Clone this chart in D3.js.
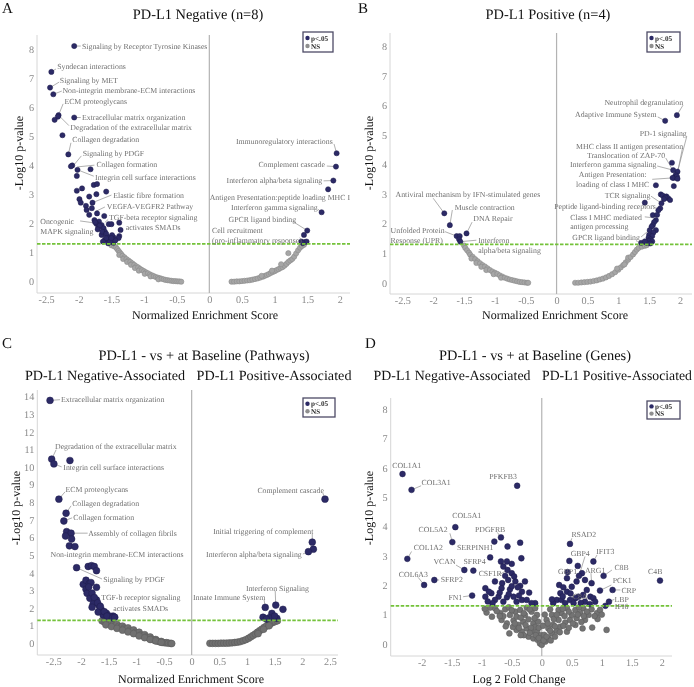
<!DOCTYPE html>
<html><head><meta charset="utf-8">
<script src="https://cdn.jsdelivr.net/npm/d3@7/dist/d3.min.js"></script>
<style>body{margin:0;background:#fff}svg{display:block;opacity:0.999;will-change:transform}svg text{text-rendering:geometricPrecision}</style>
</head><body>
<svg id="chart" width="694" height="687"></svg>
<script>
// ---------------- DATA ----------------
const sigThreshold = 1.3;
const nesTicksAB = [-2.5,-2,-1.5,-1,-0.5,0,0.5,1,1.5,2];
const nesTicksC = [-2.5,-2,-1.5,-1,-0.5,0,0.5,1,1.5,2,2.5];
const lfcTicks = [-2,-1.5,-1,-0.5,0,0.5,1,1.5,2];
const yTicks8 = [0,1,2,3,4,5,6,7,8];
const yTicks14 = [0,1,2,3,4,5,6,7,8,9,10,11,12,13,14];
const legendItems = ["p<.05","NS"];

// Panel A: PD-L1 Negative (n=8) — [NES, -log10 p]
const pdl1NegPoints = [
[-2.07,8.11],[-2.42,7.22],[-2.44,6.68],[-2.39,6.45],[-2.31,5.73],[-2.32,5.68],[-2.37,5.57],[-2.07,5.65],[-2.25,5.04],[-2.16,4.38],[-2.10,4.00],[-2.12,3.97],[-2.02,3.85],[-1.82,3.87],[-2.03,3.64],
[-2.03,3.13],[-1.95,3.21],[-1.77,3.33],[-1.72,3.36],[-1.58,3.10],[-1.84,2.93],[-1.73,3.01],[-1.99,2.84],[-1.97,2.72],[-1.89,2.61],[-1.79,2.72],[-1.80,2.53],[-1.88,2.47],[-1.84,2.30],[-1.72,2.35],[-1.61,2.26],[-1.76,2.12],[-1.69,2.07],[-1.73,1.99],[-1.65,1.95],[-1.70,1.87],[-1.62,1.84],[-1.54,1.98],[-1.50,1.98],[-1.38,2.03],[-1.36,1.78],[-1.38,1.57],[-1.39,1.50],[-1.60,1.72],[-1.65,1.61],[-1.56,1.55],[-1.60,1.44],[-1.53,1.44],[-1.47,1.53],[-1.55,1.32],[-1.47,1.34],[-1.49,1.60],
[-1.75,2.05],[-1.68,1.93],[-1.71,1.80],[-1.64,1.72],[-1.58,1.65],[-1.52,1.38],[-1.44,1.42],[-1.58,1.50],[-1.63,1.38],[-1.50,1.50],
[1.95,4.42],[1.94,3.96],[1.90,3.48],[1.82,3.18],[1.72,2.39],[1.50,1.76],[1.45,1.61],[1.41,1.38],[1.46,1.36],[1.49,1.38],[1.43,1.33],
[-1.50,1.25],[-1.46,1.22],[-1.43,1.18],[-1.41,1.12],[-1.39,1.06],[-1.37,1.00],[-1.35,0.95],[-1.38,0.92],[-1.33,0.89],[-1.30,0.84],[-1.32,0.78],[-1.27,0.78],[-1.24,0.73],[-1.26,0.68],[-1.21,0.68],[-1.18,0.63],[-1.20,0.58],[-1.15,0.58],[-1.12,0.53],[-1.14,0.47],[-1.09,0.49],[-1.06,0.44],[-1.08,0.38],[-1.03,0.40],[-1.00,0.36],[-0.97,0.32],[-0.99,0.27],[-0.94,0.29],[-0.91,0.25],[-0.88,0.22],[-0.90,0.18],[-0.85,0.19],[-0.82,0.16],[-0.79,0.14],[-0.76,0.12],[-0.78,0.08],[-0.73,0.10],[-0.70,0.08],[-0.67,0.06],[-0.64,0.05],[-0.61,0.04],[-0.58,0.03],[-0.55,0.02],[-0.52,0.02],[-0.49,0.01],[-0.46,0.01],[-0.43,0.00],
[0.34,0.00],[0.38,0.00],[0.42,0.01],[0.46,0.01],[0.50,0.02],[0.54,0.03],[0.58,0.04],[0.62,0.05],[0.66,0.07],[0.70,0.09],[0.74,0.11],[0.78,0.14],[0.82,0.17],[0.85,0.20],[0.88,0.23],[0.91,0.26],[0.94,0.30],[0.97,0.33],[1.00,0.36],[1.03,0.40],[1.06,0.43],[1.09,0.47],[1.12,0.50],[1.15,0.55],[1.18,0.61],[1.21,0.68],[1.24,0.73],[1.27,0.78],[1.30,0.86],[1.33,0.97],[1.36,1.08],[1.39,1.17],[1.42,1.23],[1.45,1.27],[1.21,0.98],[1.10,0.60],[0.96,0.38],[0.80,0.20]
];
const pdl1NegLabels = [
 {t:["Signaling by Receptor Tyrosine Kinases"], x:-1.95, y:8.11, a:"start", from:[-1.97,8.11], to:[-2.07,8.11]},
 {t:["Syndecan interactions"], x:-2.33, y:7.41, a:"start", from:[-2.35,7.32], to:[-2.42,7.22]},
 {t:["Signaling by MET"], x:-2.29, y:6.94, a:"start", from:[-2.30,6.87], to:[-2.44,6.68]},
 {t:["Non-integrin membrane-ECM interactions"], x:-2.25, y:6.60, a:"start", from:[-2.26,6.56], to:[-2.39,6.45]},
 {t:["ECM proteoglycans"], x:-2.22, y:6.22, a:"start", from:[-2.24,6.12], to:[-2.31,5.73]},
 {t:["Extracellular matrix organization"], x:-1.95, y:5.65, a:"start", from:[-1.97,5.65], to:[-2.07,5.65]},
 {t:["Degradation of the extracellular matrix"], x:-2.13, y:5.31, a:"start", from:[-2.15,5.37], to:[-2.31,5.73]},
 {t:["Collagen degradation"], x:-2.10, y:4.91, a:"start", from:[-2.12,4.78], to:[-2.16,4.38]},
 {t:["Signaling by PDGF"], x:-1.94, y:4.41, a:"start", from:[-1.96,4.33], to:[-2.08,4.00]},
 {t:["Collagen formation"], x:-1.73, y:4.03, a:"start", from:[-1.76,4.01], to:[-2.02,3.95]},
 {t:["Integrin cell surface interactions"], x:-1.75, y:3.61, a:"start", from:[-1.77,3.63], to:[-2.02,3.85]},
 {t:["Elastic fibre formation"], x:-1.47, y:2.98, a:"start", from:[-1.50,2.98], to:[-1.79,2.72]},
 {t:["VEGFA-VEGFR2 Pathway"], x:-1.57, y:2.58, a:"start", from:[-1.60,2.57], to:[-1.75,2.41]},
 {t:["TGF-beta receptor signaling","activates SMADs"], x:-0.86, y:2.22, a:"middle", from:[-1.55,2.14], to:[-1.60,2.04]},
 {t:["Oncogenic","MAPK signaling"], x:-2.59, y:2.07, a:"start", from:[-1.98,2.09], to:[-1.72,2.01]},
 {t:["Immunoregulatory interactions"], x:1.89, y:4.82, a:"end", from:[1.91,4.74], to:[1.95,4.42]},
 {t:["Complement cascade"], x:1.77, y:4.03, a:"end", from:[1.80,3.98], to:[1.94,3.96]},
 {t:["Interferon alpha/beta signaling"], x:1.73, y:3.48, a:"end", from:[1.75,3.47], to:[1.90,3.48]},
 {t:["Antigen Presentation:peptide loading MHC I"], x:2.155, y:2.91, a:"end"},
 {t:["Interferon gamma signaling"], x:1.66, y:2.55, a:"end", from:[1.66,2.50], to:[1.72,2.39]},
 {t:["GPCR ligand binding"], x:1.33, y:2.15, a:"end", from:[1.28,2.07], to:[1.50,1.76]},
 {t:["Cell recruitment","(pro-inflammatory response)"], x:0.04, y:1.78, a:"start", from:[1.42,1.47], to:[1.46,1.36]}
];

// Panel B: PD-L1 Positive (n=4)
const pdl1PosPoints = [
[1.95,5.67],[1.76,5.48],[1.87,4.06],[1.96,3.76],[1.93,3.64],[1.90,3.55],[1.95,3.60],[1.88,3.55],[1.96,3.52],[1.89,3.81],[1.61,3.30],[1.90,3.27],[1.69,2.99],[1.72,2.95],[1.78,2.92],[1.81,2.86],[1.76,2.88],[1.84,2.80],[1.74,2.83],[1.70,2.69],[1.43,2.71],[1.68,2.52],[1.65,2.45],[1.56,2.29],[1.63,2.30],[1.61,2.12],[1.58,2.05],[1.56,1.95],[1.54,1.90],[1.51,1.78],[1.61,1.78],[1.57,1.70],[1.50,1.62],[1.55,1.58],[1.49,1.52],[1.52,1.47],[1.50,1.42],[1.55,1.40],[1.37,1.35],[1.46,1.35],[1.52,1.33],[1.43,1.40],
[-1.82,2.35],[-1.73,1.95],[-1.62,1.58],[-1.57,1.58],[-1.58,1.47],[-1.56,1.39],[-1.46,1.67],
[-1.50,1.26],[-1.48,1.18],[-1.45,1.10],[-1.42,1.02],[-1.40,0.95],[-1.36,0.88],[-1.38,0.82],[-1.32,0.80],[-1.28,0.73],[-1.30,0.67],[-1.24,0.66],[-1.20,0.60],[-1.22,0.54],[-1.16,0.55],[-1.12,0.49],[-1.14,0.43],[-1.08,0.43],[-1.04,0.38],[-1.00,0.34],[-1.02,0.29],[-0.96,0.30],[-0.92,0.25],[-0.88,0.21],[-0.90,0.17],[-0.84,0.17],[-0.80,0.14],[-0.76,0.11],[-0.72,0.09],[-0.68,0.07],[-0.64,0.05],[-0.60,0.03],[-0.56,0.02],[-0.52,0.01],[-0.48,0.00],[-0.46,0.00],
[0.30,0.00],[0.35,0.00],[0.40,0.01],[0.45,0.02],[0.50,0.03],[0.55,0.04],[0.60,0.06],[0.65,0.08],[0.70,0.11],[0.75,0.14],[0.80,0.18],[0.85,0.23],[0.90,0.29],[0.95,0.36],[1.00,0.44],[1.04,0.52],[1.08,0.60],[1.12,0.69],[1.16,0.78],[1.16,0.85],[1.20,0.87],[1.24,0.96],[1.27,1.04],[1.30,1.12],[1.33,1.18],[1.38,1.22],[1.43,1.25],[1.46,1.27],[0.98,0.48],[1.10,0.62]
];
const pdl1PosLabels = [
 {t:["Antiviral mechanism by IFN-stimulated genes"], x:-2.61, y:3.00, a:"start", from:[-2.00,2.86], to:[-1.82,2.35]},
 {t:["Muscle contraction"], x:-1.65, y:2.54, a:"start", from:[-1.69,2.46], to:[-1.73,1.95]},
 {t:["DNA Repair"], x:-1.35, y:2.18, a:"start", from:[-1.37,2.05], to:[-1.46,1.67]},
 {t:["Unfolded Protein","Response (UPR)"], x:-2.69, y:1.77, a:"start", from:[-1.81,1.73], to:[-1.62,1.58]},
 {t:["Interferon","alpha/beta signaling"], x:-1.27, y:1.44, a:"start", from:[-1.30,1.44], to:[-1.56,1.39]},
 {t:["Neutrophil degranulation"], x:2.05, y:6.12, a:"end", from:[2.05,6.01], to:[1.95,5.67]},
 {t:["Adaptive Immune System"], x:1.62, y:5.71, a:"end", from:[1.64,5.61], to:[1.76,5.48]},
 {t:["PD-1 signaling"], x:2.11, y:5.05, a:"end", from:[2.11,4.95], to:[1.96,3.76]},
 {t:["MHC class II antigen presentation"], x:2.05, y:4.63, a:"end", from:[2.04,4.55], to:[1.95,3.60]},
 {t:["Translocation of ZAP-70"], x:1.76, y:4.30, a:"end", from:[1.77,4.22], to:[1.93,3.64]},
 {t:["Interferon gamma signaling"], x:1.62, y:4.00, a:"end", from:[1.63,3.95], to:[1.89,3.81]},
 {t:["Antigen Presentation:","loading of class I MHC"], x:0.91, y:3.67, a:"middle", from:[1.55,3.50], to:[1.90,3.55]},
 {t:["TCR signaling"], x:1.52, y:2.97, a:"end", from:[1.53,2.93], to:[1.70,2.69]},
 {t:["Peptide ligand-binding receptors"], x:1.61, y:2.59, a:"end", from:[1.62,2.55], to:[1.68,2.49]},
 {t:["Class I MHC mediated","antigen processing"], x:0.22, y:2.23, a:"start", from:[1.43,2.23], to:[1.56,2.20]},
 {t:["GPCR ligand binding"], x:1.35, y:1.54, a:"end", from:[1.37,1.55], to:[1.50,1.78]}
];

// Panel C: PD-L1 - vs + at Baseline (Pathways)
const baselinePathwayPoints = [
[-2.56,13.78],[-2.53,10.45],[-2.49,10.18],[-2.20,10.37],[-2.40,8.18],[-2.27,7.38],[-2.31,6.94],[-2.26,6.34],[-2.18,6.25],[-2.28,6.09],[-2.17,5.92],[-2.21,5.53],[-2.11,5.49],
[-2.08,4.29],[-1.87,4.36],[-1.81,4.41],[-1.76,4.36],[-1.72,4.12],[-1.96,3.35],[-1.91,3.58],[-1.85,3.39],[-1.82,3.45],[-1.72,3.18],[-1.91,3.07],[-1.89,2.84],[-1.84,2.56],[-1.72,2.46],[-1.78,2.24],[-1.67,2.12],[-1.63,1.89],[-1.54,1.70],[-1.42,1.55],[-1.48,1.55],[-1.60,1.61],[-1.69,1.78],[-1.80,2.85],[-1.76,2.60],[-1.70,2.30],[-1.65,2.10],[-1.58,1.80],[-1.53,1.55],[-1.43,1.45],[-1.39,1.48],[-1.86,3.20],[-1.80,2.05],
[2.41,8.18],[2.18,5.74],[2.20,5.34],[2.11,5.20],[1.52,2.17],[1.33,2.04],[1.65,1.93],[1.29,1.48],[1.45,1.70],[1.54,1.42],[1.40,1.45],[1.50,1.55],[1.35,1.38],
[-1.62,1.28],[-1.58,1.22],[-1.55,1.24],[-1.52,1.16],[-1.48,1.12],[-1.45,1.16],[-1.42,1.06],[-1.38,1.02],[-1.35,1.08],[-1.32,0.96],[-1.28,0.92],[-1.25,0.98],[-1.22,0.86],[-1.18,0.82],[-1.15,0.88],[-1.12,0.74],[-1.08,0.70],[-1.05,0.76],[-1.02,0.62],[-0.98,0.57],[-0.95,0.63],[-0.92,0.48],[-0.88,0.43],[-0.85,0.49],[-0.82,0.36],[-0.78,0.31],[-0.75,0.36],[-0.72,0.24],[-0.68,0.19],[-0.65,0.22],[-0.62,0.13],[-0.58,0.09],[-0.55,0.11],[-0.52,0.05],[-0.48,0.03],[-0.45,0.04],[-0.42,0.01],[-0.38,0.00],[-0.36,-0.01],
[-1.55,1.05],[-1.45,0.95],[-1.35,0.85],[-1.25,0.75],[-1.15,0.65],[-1.05,0.55],[-0.95,0.42],[-0.85,0.32],[-0.75,0.22],[-0.65,0.14],[-0.55,0.06],
[0.33,0.00],[0.38,0.00],[0.43,0.00],[0.48,0.00],[0.53,0.01],[0.58,0.01],[0.63,0.01],[0.68,0.02],[0.73,0.03],[0.78,0.05],[0.83,0.07],[0.88,0.10],[0.93,0.15],[0.98,0.21],[1.03,0.29],[1.07,0.37],[1.11,0.45],[1.15,0.53],[1.19,0.63],[1.23,0.72],[1.27,0.81],[1.31,0.90],[1.35,0.98],[1.39,1.06],[1.43,1.13],[1.47,1.19],[1.51,1.24],[1.55,1.28],[1.20,0.55],[1.30,0.80],[1.40,1.00]
];
const baselinePathwayLabels = [
 {t:["Extracellular matrix organization"], x:-2.36, y:13.82, a:"start", from:[-2.38,13.82], to:[-2.56,13.78]},
 {t:["Degradation of the extracellular matrix"], x:-2.47, y:11.16, a:"start", from:[-2.45,10.98], to:[-2.53,10.45]},
 {t:["Integrin cell surface interactions"], x:-2.32, y:9.97, a:"start", from:[-2.35,10.01], to:[-2.49,10.18]},
 {t:["ECM proteoglycans"], x:-2.28, y:8.76, a:"start", from:[-2.29,8.59], to:[-2.40,8.18]},
 {t:["Collagen degradation"], x:-2.16, y:7.95, a:"start", from:[-2.18,7.80], to:[-2.27,7.38]},
 {t:["Collagen formation"], x:-2.14, y:7.17, a:"start", from:[-2.16,7.12], to:[-2.31,6.94]},
 {t:["Assembly of collagen fibrils"], x:-1.87, y:6.25, a:"start", from:[-1.88,6.25], to:[-2.18,6.25]},
 {t:["Non-integrin membrane-ECM interactions"], x:-2.55, y:5.03, a:"start"},
 {t:["Signaling by PDGF"], x:-1.60, y:3.63, a:"start", from:[-1.62,3.65], to:[-2.08,4.29]},
 {t:["TGF-b receptor signaling","activates SMADs"], x:-0.92, y:2.61, a:"middle"},
 {t:["Complement cascade"], x:2.39, y:8.67, a:"end", from:[2.37,8.54], to:[2.41,8.18]},
 {t:["Initial triggering of complement"], x:2.20, y:6.38, a:"end", from:[2.18,6.21], to:[2.18,5.74]},
 {t:["Interferon alpha/beta signaling"], x:1.99, y:5.05, a:"end", from:[2.01,5.07], to:[2.11,5.20]},
 {t:["Interferon Signaling"], x:0.98, y:3.12, a:"start", from:[1.51,2.97], to:[1.52,2.17]},
 {t:["Innate Immune System"], x:1.33, y:2.59, a:"end", from:[1.31,2.46], to:[1.33,2.04]}
];

// Panel D: PD-L1 - vs + at Baseline (Genes) — [log2 FC, -log10 p]
const baselineGenePoints = [
[-2.32,5.79],[-2.17,5.25],[-0.41,5.39],[-1.44,3.98],[-1.49,3.47],[-0.68,3.63],[-0.79,3.49],[-0.57,3.32],[-0.36,3.45],[-2.24,2.90],[-0.86,2.95],[-0.68,2.81],[-0.58,2.81],[-0.50,2.73],[-0.34,2.92],[-1.29,2.52],[-1.14,2.50],[-0.57,2.52],[-0.50,2.41],[-0.61,2.32],[-1.96,2.01],[-1.79,2.18],[-0.78,2.13],[-0.66,2.07],[-0.56,2.18],[-0.44,2.13],[-0.36,1.98],[-0.28,2.13],[-0.67,1.90],[-0.53,1.86],[-0.40,1.93],[-0.33,1.78],[-0.94,1.90],[-0.84,1.73],[-0.72,1.61],[-0.58,1.59],[-0.47,1.61],[-0.21,1.75],[-0.33,1.50],[-0.11,1.39],[-0.78,1.50],[-0.94,1.61],[-0.82,1.39],[-0.64,1.44],[-0.42,1.44],[-0.25,1.50],[-0.17,1.39],[-1.16,1.65],[-0.50,1.97],[-0.46,2.30],[-0.64,2.64],[-0.88,1.78],[-0.70,1.75],[-0.55,1.70],[-0.38,1.65],[-0.90,1.45],
[0.47,3.41],[0.46,2.83],[0.86,2.81],[0.60,2.66],[0.67,2.41],[0.42,2.24],[0.83,2.07],[1.03,2.32],[1.97,2.16],[0.97,1.82],[1.18,1.84],[1.12,1.44],[1.06,1.30],[0.61,1.61],[0.29,2.01],[0.36,1.93],[0.50,1.95],[0.58,2.13],[0.42,1.78],[0.31,1.73],[0.25,1.50],[0.33,1.50],[0.47,1.50],[0.56,1.56],[0.69,1.67],[0.75,1.84],[0.81,1.61],[0.86,1.56],[0.72,1.44],[0.89,1.44],[0.53,1.39],[0.19,1.39],[0.39,1.39],[0.62,2.32],[0.72,2.18],[0.17,1.52],[0.43,2.45],[0.65,1.40],[0.80,1.36],[0.35,1.62],[0.48,1.72],
[-0.92,1.07],[-0.78,1.22],[-0.69,1.05],[-0.61,1.18],[-0.53,0.99],[-0.44,1.10],[-0.36,1.16],[-0.28,0.99],[-0.17,1.10],[-0.08,0.99],[-0.67,0.82],[-0.58,0.70],[-0.47,0.80],[-0.39,0.65],[-0.31,0.76],[-0.22,0.84],[-0.14,0.70],[-0.06,0.76],[-0.54,0.36],[-0.42,0.48],[-0.33,0.42],[-0.25,0.53],[-0.17,0.42],[-0.08,0.42],[-0.22,0.25],[-0.14,0.19],[-0.07,0.14],[-0.03,0.02],[0.00,-0.03],[-0.83,0.93],[-0.42,0.93],[-0.11,1.22],[-0.86,1.24],[-0.55,1.25],[-0.25,1.24],[-0.48,0.58],[-0.30,0.30],[-0.11,0.58],[-0.02,0.30],
[-0.75,1.12],[-0.64,0.95],[-0.50,1.15],[-0.35,0.90],[-0.20,1.18],[-0.12,0.88],[-0.60,0.60],[-0.38,0.55],[-0.27,0.65],[-0.18,0.55],[-0.10,0.30],[-0.05,0.55],[-0.35,0.30],[-0.70,0.95],[-0.45,0.70],[-0.20,0.38],[-0.05,0.20],[-0.95,1.20],[-0.30,1.05],
[0.06,0.08],[0.11,0.19],[0.04,0.31],[0.17,0.36],[0.25,0.45],[0.11,0.53],[0.19,0.65],[0.31,0.59],[0.39,0.73],[0.08,0.82],[0.28,0.82],[0.47,0.82],[0.58,0.88],[0.72,0.82],[0.17,0.99],[0.33,1.05],[0.50,0.99],[0.64,1.05],[0.78,0.99],[0.92,1.05],[0.14,1.18],[0.28,1.16],[0.42,1.22],[0.56,1.16],[0.69,1.22],[0.83,1.18],[0.97,1.16],[0.84,0.56],[1.08,0.48],[0.93,0.85],[0.68,0.53],[0.56,0.65],[0.42,0.42],[0.03,0.12],[0.22,0.25],[0.05,1.00],[0.36,0.62],[0.02,0.62],
[0.10,0.70],[0.20,0.85],[0.25,1.00],[0.38,0.95],[0.45,1.10],[0.52,0.70],[0.60,1.00],[0.66,0.75],[0.75,1.10],[0.88,0.95],[0.30,0.40],[0.14,0.45],[0.08,0.25],[0.45,0.55],[0.22,0.60],[1.00,1.00],[0.70,0.95],[0.15,0.12],[0.35,1.20],[0.62,1.25]
];
const baselineGeneLabels = [
 {t:["COL1A1"], x:-2.25, y:6.08, a:"middle"},
 {t:["COL3A1"], x:-1.76, y:5.50, a:"middle", from:[-2.01,5.39], to:[-2.17,5.25]},
 {t:["PFKFB3"], x:-0.645, y:5.70, a:"middle"},
 {t:["COL5A1"], x:-1.25, y:4.40, a:"middle"},
 {t:["COL5A2"], x:-1.81, y:3.91, a:"middle", from:[-1.53,3.77], to:[-1.49,3.47]},
 {t:["PDGFRB"], x:-0.86, y:3.91, a:"middle", from:[-0.74,3.80], to:[-0.68,3.63]},
 {t:["COL1A2"], x:-1.89, y:3.30, a:"middle", from:[-2.17,3.15], to:[-2.24,2.90]},
 {t:["SERPINH1"], x:-1.11, y:3.30, a:"middle"},
 {t:["VCAN"], x:-1.62, y:2.81, a:"middle", from:[-1.43,2.69], to:[-1.29,2.52]},
 {t:["SFRP4"], x:-1.12, y:2.81, a:"middle"},
 {t:["CSF1R"], x:-0.86, y:2.41, a:"middle", from:[-0.72,2.35], to:[-0.57,2.52]},
 {t:["COL6A3"], x:-2.14, y:2.39, a:"middle", from:[-2.06,2.27], to:[-1.96,2.01]},
 {t:["SFRP2"], x:-1.50, y:2.22, a:"middle", from:[-1.71,2.18], to:[-1.79,2.18]},
 {t:["FN1"], x:-1.44, y:1.59, a:"middle", from:[-1.31,1.61], to:[-1.16,1.65]},
 {t:["RSAD2"], x:0.70, y:3.75, a:"middle", from:[0.50,3.60], to:[0.47,3.41]},
 {t:["GBP4"], x:0.64, y:3.09, a:"middle", from:[0.72,2.98], to:[0.62,2.32]},
 {t:["IFIT3"], x:1.06, y:3.15, a:"middle", from:[0.92,3.03], to:[0.86,2.81]},
 {t:["GBP1"], x:0.43, y:2.47, a:"middle"},
 {t:["ARG1"], x:0.89, y:2.52, a:"middle", from:[0.82,2.41], to:[0.83,2.07]},
 {t:["C8B"], x:1.33, y:2.61, a:"middle", from:[1.17,2.52], to:[1.03,2.32]},
 {t:["C4B"], x:1.89, y:2.47, a:"middle"},
 {t:["PCK1"], x:1.34, y:2.18, a:"middle", from:[1.16,2.01], to:[0.97,1.82]},
 {t:["CRP"], x:1.45, y:1.82, a:"middle", from:[1.31,1.84], to:[1.18,1.84]},
 {t:["C8A"], x:0.64, y:1.61, a:"middle"},
 {t:["LBP"], x:1.33, y:1.53, a:"middle", from:[1.21,1.52], to:[1.12,1.44]},
 {t:["IFI6"], x:1.33, y:1.27, a:"middle", from:[1.21,1.30], to:[1.06,1.30]}
];

// ---------------- DRAWING ----------------
const FONT = "'Liberation Serif','Times New Roman',Times,serif";
const NAVY = "#2c2a66";
const svg = d3.select("#chart");

const panels = [
 {letter:"A", letterPos:[2,12.5], title:"PD-L1 Negative (n=8)", titlePos:[198,18.5], subs:[],
  points:pdl1NegPoints, labels:pdl1NegLabels, xDomain:[-2.64,2.155], xRange:[37,350], yDomain:[-0.39,8.49], yRange:[293,35],
  xTicks:nesTicksAB, yTicks:yTicks8, xTitle:"Normalized Enrichment Score", xTitlePos:[205,318.5], yTitlePos:[23,153],
  legend:[303,32,30,20], r:2.6, nsFill:"#a6a6a6", nsStroke:"#8c8c8c", gap:10},
 {letter:"B", letterPos:[358,12.5], title:"PD-L1 Positive (n=4)", titlePos:[548,18.5], subs:[],
  points:pdl1PosPoints, labels:pdl1PosLabels, xDomain:[-2.70,2.195], xRange:[390,692], yDomain:[-0.38,8.45], yRange:[294,33],
  xTicks:nesTicksAB, yTicks:yTicks8, xTitle:"Normalized Enrichment Score", xTitlePos:[555,318.5], yTitlePos:[373,153],
  legend:[647,32,33,20], r:2.6, nsFill:"#a6a6a6", nsStroke:"#8c8c8c", gap:9.7},
 {letter:"C", letterPos:[2,348], title:"PD-L1 - vs + at Baseline (Pathways)", titlePos:[204,360],
  subs:[["PD-L1 Negative-Associated",105,160],["PD-L1 Positive-Associated",274,155]],
  points:baselinePathwayPoints, labels:baselinePathwayLabels, xDomain:[-2.79,2.645], xRange:[37.3,338], yDomain:[-0.66,14.37], yRange:[655,390],
  xTicks:nesTicksC, yTicks:yTicks14, xTitle:"Normalized Enrichment Score", xTitlePos:[191,683], yTitlePos:[20,508],
  legend:[303,398,32,19], r:3.4, nsFill:"#707070", nsStroke:"#5c5c5c", gap:11},
 {letter:"D", letterPos:[365,348], title:"PD-L1 - vs + at Baseline (Genes)", titlePos:[535,360],
  subs:[["PD-L1 Negative-Associated",452,157],["PD-L1 Positive-Associated",617,150]],
  points:baselineGenePoints, labels:baselineGeneLabels, xDomain:[-2.517,2.17], xRange:[390.7,672], yDomain:[-0.41,8.38], yRange:[656,398],
  xTicks:lfcTicks, yTicks:yTicks8, xTitle:"Log 2 Fold Change", xTitlePos:[519,683], yTitlePos:[373,508],
  legend:[647,401,33,18], r:2.9, nsFill:"#737373", nsStroke:"#5e5e5e", gap:10}
];

function drawPanel(p){
  const x = d3.scaleLinear().domain(p.xDomain).range(p.xRange);
  const y = d3.scaleLinear().domain(p.yDomain).range(p.yRange);
  const g = svg.append("g");
  const [bottom, top] = p.yRange;
  g.append("line").attr("x1",p.xRange[0]).attr("x2",p.xRange[0]).attr("y1",top).attr("y2",bottom).attr("stroke","#d6d6d6").attr("stroke-width",1);
  g.append("line").attr("x1",p.xRange[0]).attr("x2",p.xRange[1]).attr("y1",bottom).attr("y2",bottom).attr("stroke","#d6d6d6").attr("stroke-width",1);
  g.append("line").attr("x1",x(0)).attr("x2",x(0)).attr("y1",top).attr("y2",bottom).attr("stroke","#b3b3b3").attr("stroke-width",1.2);

  const ya = g.append("g").attr("transform",`translate(${p.xRange[0]},0)`)
    .call(d3.axisLeft(y).tickValues(p.yTicks).tickSize(0).tickPadding(3).tickFormat(d=>String(d)));
  ya.select(".domain").remove();
  ya.selectAll("text").attr("font-family",FONT).attr("font-size",10.2).attr("fill","#8a8a8a");
  const xa = g.append("g").attr("transform",`translate(0,${bottom})`)
    .call(d3.axisBottom(x).tickValues(p.xTicks).tickSize(0).tickPadding(3).tickFormat(d=>String(d)));
  xa.select(".domain").remove();
  xa.selectAll("text").attr("font-family",FONT).attr("font-size",10.2).attr("fill","#8a8a8a");

  g.selectAll(".leader").data(p.labels.filter(l=>l.from)).enter().append("line")
    .attr("x1",d=>x(d.from[0])).attr("y1",d=>y(d.from[1]))
    .attr("x2",d=>x(d.to[0])).attr("y2",d=>y(d.to[1]))
    .attr("stroke","#8e8e8e").attr("stroke-width",0.7);

  const ns = p.points.filter(d=>d[1] < sigThreshold);
  const sig = p.points.filter(d=>d[1] >= sigThreshold);
  g.selectAll(".ns").data(ns).enter().append("circle")
    .attr("cx",d=>x(d[0])).attr("cy",d=>y(d[1])).attr("r",p.r)
    .attr("fill",p.nsFill).attr("stroke",p.nsStroke).attr("stroke-width",0.6);
  g.selectAll(".sig").data(sig).enter().append("circle")
    .attr("cx",d=>x(d[0])).attr("cy",d=>y(d[1])).attr("r",p.r)
    .attr("fill",NAVY).attr("stroke","#1f1d4d").attr("stroke-width",0.5);

  g.append("line").attr("x1",p.xRange[0]).attr("x2",p.xRange[1]).attr("y1",y(sigThreshold)).attr("y2",y(sigThreshold))
    .attr("stroke","#74c23a").attr("stroke-width",1.8).attr("stroke-dasharray","3.5,1.5");

  p.labels.forEach(l=>{
    const t = g.append("text").attr("font-family",FONT).attr("font-size",7.8).attr("fill","#707070")
      .attr("text-anchor",l.a).attr("x",x(l.x)).attr("y",y(l.y));
    l.t.forEach((line,i)=>{
      t.append("tspan").attr("x",x(l.x)).attr("y",y(l.y)+i*p.gap).attr("dy","0.35em").text(line);
    });
  });

  const [lx,ly,lw,lh] = p.legend;
  const lg = g.append("g");
  lg.append("rect").attr("x",lx).attr("y",ly).attr("width",lw).attr("height",lh)
    .attr("fill","#fff").attr("stroke","#4d4b66").attr("stroke-width",1.3);
  legendItems.forEach((name,i)=>{
    const cy = ly + lh*0.3 + i*lh*0.4;
    lg.append("circle").attr("cx",lx+4.5).attr("cy",cy).attr("r",2.2)
      .attr("fill", i===0 ? NAVY : "#8f8f8f");
    lg.append("text").attr("x",lx+8).attr("y",cy).attr("dy","0.35em")
      .attr("font-family",FONT).attr("font-size",7.2).attr("font-weight","bold").attr("fill","#2a2a2a").text(name);
  });

  g.append("text").attr("x",p.letterPos[0]).attr("y",p.letterPos[1]).attr("font-family",FONT).attr("font-size",15).attr("fill","#111").text(p.letter);
  g.append("text").attr("x",p.titlePos[0]).attr("y",p.titlePos[1]).attr("text-anchor","middle")
    .attr("font-family",FONT).attr("font-size",14.4).attr("fill","#111").text(p.title);
  p.subs.forEach(s=>{
    g.append("text").attr("x",s[1]).attr("y",380).attr("text-anchor","middle")
      .attr("font-family",FONT).attr("font-size",14).attr("fill","#111")
      .attr("textLength",s[2]).attr("lengthAdjust","spacingAndGlyphs").text(s[0]);
  });
  g.append("text").attr("x",p.xTitlePos[0]).attr("y",p.xTitlePos[1]).attr("text-anchor","middle")
    .attr("font-family",FONT).attr("font-size",12).attr("fill","#111").text(p.xTitle);
  g.append("text").attr("transform",`translate(${p.yTitlePos[0]},${p.yTitlePos[1]}) rotate(-90)`).attr("text-anchor","middle")
    .attr("font-family",FONT).attr("font-size",12).attr("fill","#111").text("-Log10 p-value");
}
panels.forEach(drawPanel);
</script>
</body></html>
